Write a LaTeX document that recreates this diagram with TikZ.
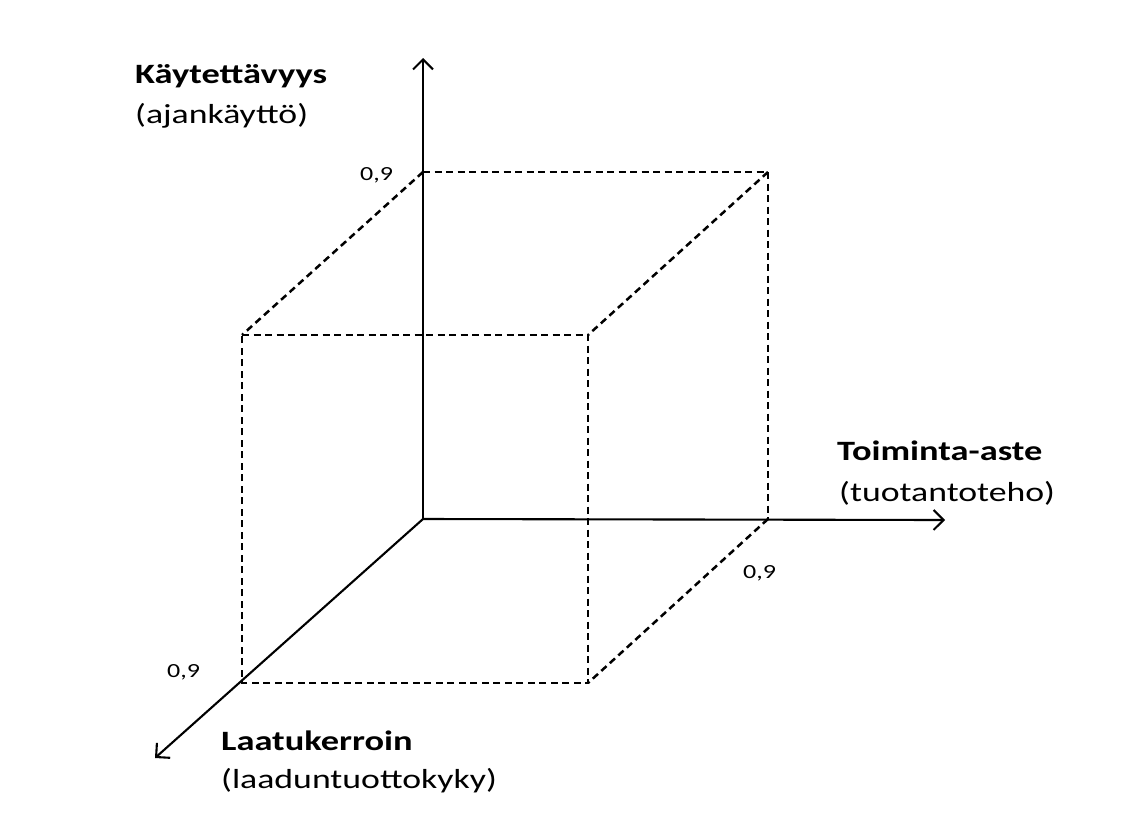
\documentclass[tikz,border=0pt]{standalone}
\usepackage{fontspec}
\setmainfont{Carlito}
\newfontfamily\widefont[FakeStretch=1.3]{Carlito}
\usetikzlibrary{arrows.meta}
\begin{document}
\begin{tikzpicture}[x=1pt,y=-1pt,
  axis/.style={line width=2.1pt,-{Straight Barb[length=10pt,width=20pt,line width=2.1pt]}},
  edge/.style={line width=2.5pt,dash pattern=on 7pt off 4.5pt},
  axlabel/.style={anchor=base west,inner sep=0pt,font=\widefont\fontsize{28}{30}\selectfont\bfseries},
  sublabel/.style={anchor=base west,inner sep=0pt,font=\widefont\fontsize{27.5}{30}\selectfont},
  tick/.style={anchor=base west,inner sep=0pt,font=\widefont\fontsize{20}{22}\selectfont}]
\useasboundingbox (0,0) rectangle (1123,814);
% coordinates
\coordinate (O) at (423,519);
\coordinate (ytop) at (423,58);
\coordinate (xend) at (945,520);
\coordinate (zend) at (155,758);
\coordinate (A) at (423,172);
\coordinate (B) at (768,172);
\coordinate (C) at (768,519);
\coordinate (D) at (242,335);
\coordinate (E) at (588,335);
\coordinate (F) at (588,683);
\coordinate (G) at (242,683);
% axes
\draw[axis] (O) -- (ytop);
\draw[axis] (O) -- (xend);
\draw[axis] (O) -- (zend);
% cube edges
\draw[edge] (A) -- (B) -- (C);
\draw[edge] (A) -- (D);
\draw[edge] (B) -- (E);
\draw[edge] (C) -- (F);
\draw[edge] (D) -- (E) -- (F) -- (G) -- (D);
% labels
\node[axlabel] (ky) at (135,83) {Käytettävyys};
\node[sublabel] (ka) at (135,123) {(ajankäyttö)};
\node[tick] (t1) at (360,180) {0,9};
\node[axlabel] (ta) at (837,460) {Toiminta-aste};
\node[sublabel] (tt) at (839,501) {(tuotantoteho)};
\node[tick] (t2) at (743,578) {0,9};
\node[tick] (t3) at (167,677) {0,9};
\node[axlabel] (la) at (221,750) {Laatukerroin};
\node[sublabel] (lk) at (221,788) {(laaduntuottokyky)};
\end{tikzpicture}
\end{document}
